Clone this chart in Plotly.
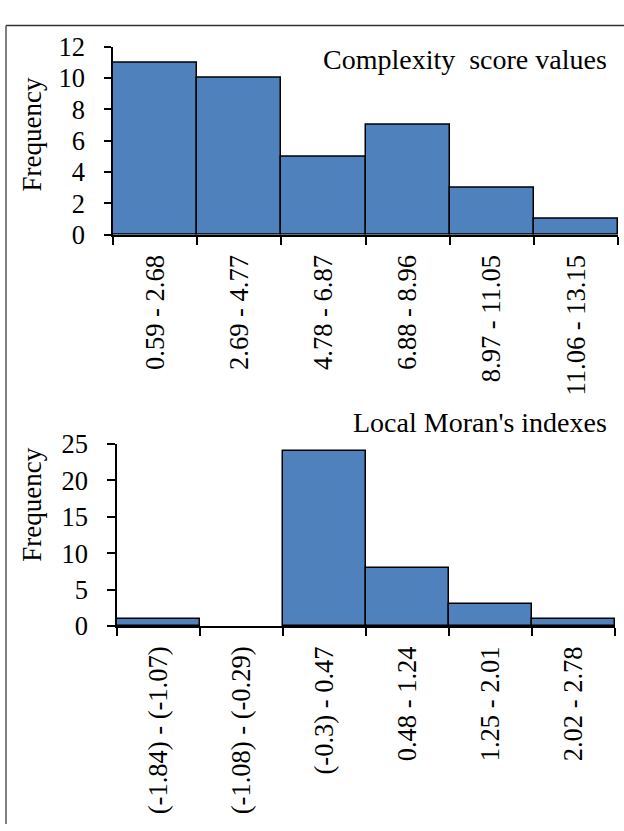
import plotly.graph_objects as go

W, H = 624, 831

top_categories = ["0.59 - 2.68", "2.69 - 4.77", "4.78 - 6.87", "6.88 - 8.96", "8.97 - 11.05", "11.06 - 13.15"]
top_values = [11, 10, 5, 7, 3, 1]
top_title = "Complexity  score values"

bot_categories = ["(-1.84) - (-1.07)", "(-1.08) - (-0.29)", "(-0.3) - 0.47", "0.48 - 1.24", "1.25 - 2.01", "2.02 - 2.78"]
bot_values = [1, 0, 24, 8, 3, 1]
bot_title = "Local Moran's indexes"

FONT = "Liberation Serif, Times New Roman, serif"
FS = 26.5
BAR = "#4F81BD"

def px(x):
    return x / W

def py(y):
    return 1 - y / H

def outline(vals):
    return [1.5 if v > 0 else 0 for v in vals]

fig = go.Figure()
fig.add_trace(go.Bar(x=top_categories, y=top_values, width=1,
                     marker=dict(color=BAR, line=dict(color="black", width=outline(top_values))),
                     xaxis="x", yaxis="y", showlegend=False))
fig.add_trace(go.Bar(x=bot_categories, y=bot_values, width=1,
                     marker=dict(color=BAR, line=dict(color="black", width=outline(bot_values))),
                     xaxis="x2", yaxis="y2", showlegend=False))

axis_common = dict(showline=True, linecolor="black", linewidth=1.5, ticks="outside", tickcolor="black",
                   tickwidth=1.5, showgrid=False, zeroline=False, tickfont=dict(family=FONT, size=FS, color="black"))

fig.update_layout(
    width=W, height=H, margin=dict(l=0, r=0, t=0, b=0),
    paper_bgcolor="white", plot_bgcolor="white", bargap=0,
    xaxis=dict(domain=[px(113), px(618)], anchor="y", type="category", range=[-0.5, 5.5],
               tickson="boundaries", ticklen=8, tickangle=-90, ticklabelstandoff=8, **axis_common),
    yaxis=dict(domain=[py(228), py(33)], anchor="x", range=[0, 12], dtick=2, ticklen=7,
               ticklabelstandoff=14, **axis_common),
    xaxis2=dict(domain=[px(117), px(615)], anchor="y2", type="category", range=[-0.5, 5.5],
                tickson="boundaries", ticklen=8, tickangle=-90, ticklabelstandoff=8, **axis_common),
    yaxis2=dict(domain=[py(634), py(445)], anchor="x2", range=[0, 25], dtick=5, ticklen=8,
                ticklabelstandoff=14, **axis_common),
)

annotations = [
    dict(text=top_title, x=px(609), y=py(46), xanchor="right", yanchor="middle", size=28),
    dict(text=bot_title, x=px(609), y=py(423), xanchor="right", yanchor="middle", size=28),
    dict(text="Frequency", x=px(32), y=py(124), xanchor="center", yanchor="middle", textangle=-90, size=27),
    dict(text="Frequency", x=px(32), y=py(508), xanchor="center", yanchor="middle", textangle=-90, size=27),
]
for a in annotations:
    s = a.pop("size")
    a.update(xref="paper", yref="paper", showarrow=False, font=dict(family=FONT, size=s, color="black"))
fig.update_layout(annotations=annotations)

fig.add_shape(type="line", xref="paper", yref="paper", x0=px(6), x1=1.01, y0=py(11), y1=py(11),
              line=dict(color="#333333", width=1.5))
fig.add_shape(type="line", xref="paper", yref="paper", x0=px(6), x1=px(6), y0=py(11), y1=-0.01,
              line=dict(color="#555555", width=1.5))

fig.write_html("out.html", config={"displayModeBar": False},
               post_script="document.body.style.margin='0';document.body.style.overflow='hidden';")
